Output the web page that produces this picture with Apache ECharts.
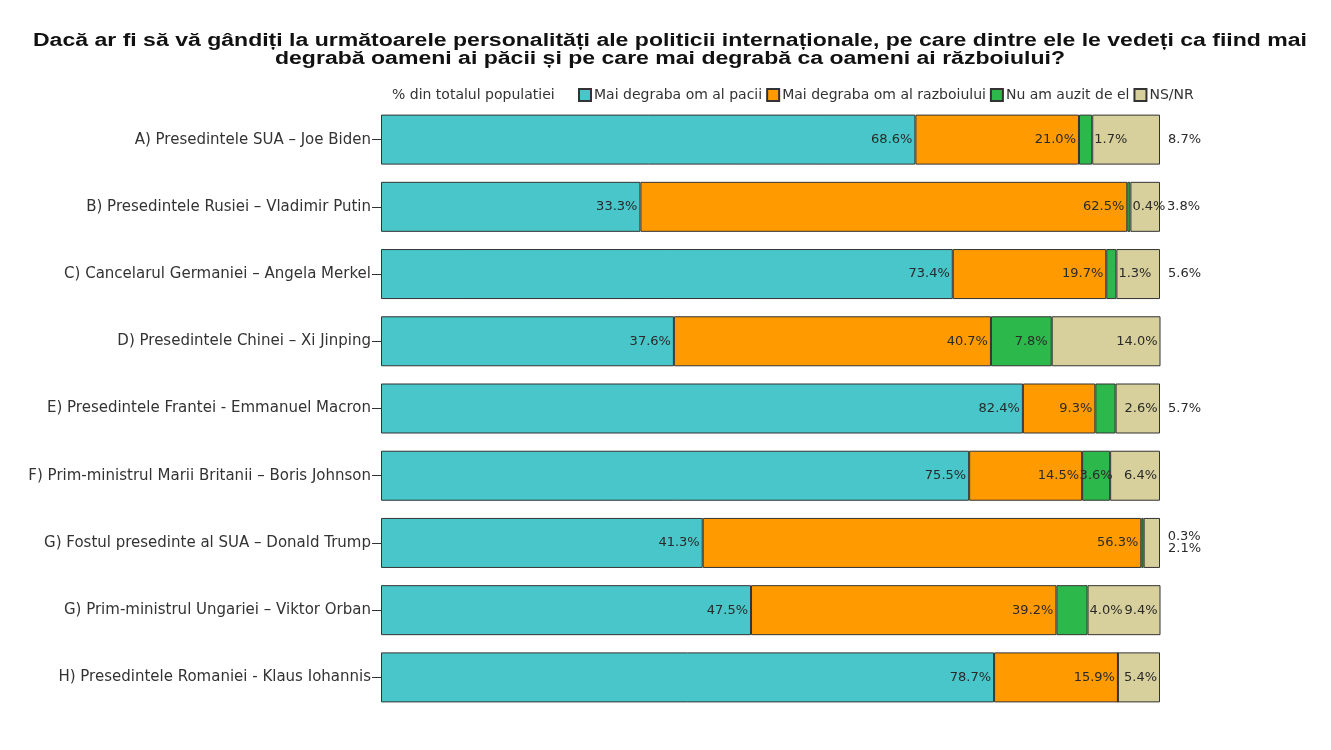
<!DOCTYPE html>
<html>
<head>
<meta charset="utf-8">
<script src="https://cdn.jsdelivr.net/npm/echarts@6/dist/echarts.min.js"></script>
<style>html,body{margin:0;padding:0;background:#fff}#chart{width:1331px;height:750px}</style>
</head>
<body>
<div id="chart"></div>
<script>
const categories = [
  'A) Presedintele SUA – Joe Biden',
  'B) Presedintele Rusiei – Vladimir Putin',
  'C) Cancelarul Germaniei – Angela Merkel',
  'D) Presedintele Chinei – Xi Jinping',
  'E) Presedintele Frantei - Emmanuel Macron',
  'F) Prim-ministrul Marii Britanii – Boris Johnson',
  'G) Fostul presedinte al SUA – Donald Trump',
  'G) Prim-ministrul Ungariei – Viktor Orban',
  'H) Presedintele Romaniei - Klaus Iohannis'
];
const seriesNames = ['Mai degraba om al pacii', 'Mai degraba om al razboiului', 'Nu am auzit de el', 'NS/NR'];
const pacii    = [68.6, 33.3, 73.4, 37.6, 82.4, 75.5, 41.3, 47.5, 78.7];
const razboi   = [21.0, 62.5, 19.7, 40.7,  9.3, 14.5, 56.3, 39.2, 15.9];
const nuAuzit  = [ 1.7,  0.4,  1.3,  7.8,  2.6,  3.6,  0.3,  4.0,  0.0];
const nsnr     = [ 8.7,  3.8,  5.6, 14.0,  5.7,  6.4,  2.1,  9.4,  5.4];
const colors = ['#48C6C9', '#FF9A00', '#2DB84B', '#D7CF9C'];

// label placement styles (not data)
const greenLabelStyle = [
  {position:'right', distance:2},
  {position:'right', distance:2},
  {position:'right', distance:2},
  {position:'insideRight', distance:4},
  {position:'right', distance:9},
  {position:'inside'},
  {position:'right', distance:8, offset:[16, -6]},
  {position:'right', distance:2},
  {show:false}
];
const nsnrLabelStyle = [
  {position:'right', distance:8},
  {position:'right', distance:7},
  {position:'right', distance:8},
  {position:'insideRight', distance:3},
  {position:'right', distance:8},
  {position:'insideRight', distance:3},
  {position:'right', distance:8, offset:[0, 6]},
  {position:'insideRight', distance:3},
  {position:'insideRight', distance:3}
];

const labelFont = {fontFamily:'DejaVu Sans', fontSize:13, color:'#2a2a2a'};
const fmt = p => p.value.toFixed(1) + '%';

function mkSeries(name, values, color, labelStyles) {
  return {
    name: name,
    type: 'bar',
    stack: 'total',
    barWidth: 50,
    itemStyle: {color: color, borderColor: '#333', borderWidth: 1},
    label: Object.assign({show:true, position:'insideRight', distance:3, formatter: fmt}, labelFont),
    emphasis: {disabled: true},
    data: values.map((v, i) => {
      const d = {value: v};
      if (labelStyles) d.label = labelStyles[i];
      return d;
    })
  };
}

const chart = echarts.init(document.getElementById('chart'), null, {renderer:'canvas'});
chart.setOption({
  animation: false,
  backgroundColor: '#fff',
  graphic: [
    {
      type: 'text', x: 670, y: 32, scaleX: 1.28,
      style: {
        x: 0, y: 0,
        text: 'Dacă ar fi să vă gândiți la următoarele personalități ale politicii internaționale, pe care dintre ele le vedeți ca fiind mai\ndegrabă oameni ai păcii și pe care mai degrabă ca oameni ai războiului?',
        align: 'center', verticalAlign: 'top', fontFamily: 'Liberation Sans', fontWeight: 'bold', fontSize: 18, lineHeight: 18, fill: '#111'
      }
    },
    {
      type: 'text', x: 392, y: 95,
      style: {x: 0, y: 0, text: '% din totalul populatiei', verticalAlign: 'middle', fontFamily: 'DejaVu Sans', fontSize: 14, fill: '#333'}
    }
  ],
  legend: {
    left: 578, top: 88, padding: 0,
    itemWidth: 12, itemHeight: 12, itemGap: 4,
    icon: 'rect',
    textStyle: {fontFamily: 'DejaVu Sans', fontSize: 14, color: '#333', padding: [0, 0, 0, -2]},
    data: seriesNames
  },
  grid: {left: 381, right: 171, top: 106, bottom: 39, containLabel: false},
  xAxis: {type: 'value', min: 0, max: 100, show: false},
  yAxis: {
    type: 'category', inverse: true, data: categories,
    axisLine: {show: false},
    axisTick: {show: true, alignWithLabel: true, length: 9, lineStyle: {color: '#333'}},
    axisLabel: {margin: 10, fontFamily: 'DejaVu Sans', fontSize: 15, color: '#333'}
  },
  series: [
    mkSeries(seriesNames[0], pacii, colors[0]),
    mkSeries(seriesNames[1], razboi, colors[1]),
    mkSeries(seriesNames[2], nuAuzit, colors[2], greenLabelStyle),
    mkSeries(seriesNames[3], nsnr, colors[3], nsnrLabelStyle)
  ]
});
</script>
</body>
</html>
